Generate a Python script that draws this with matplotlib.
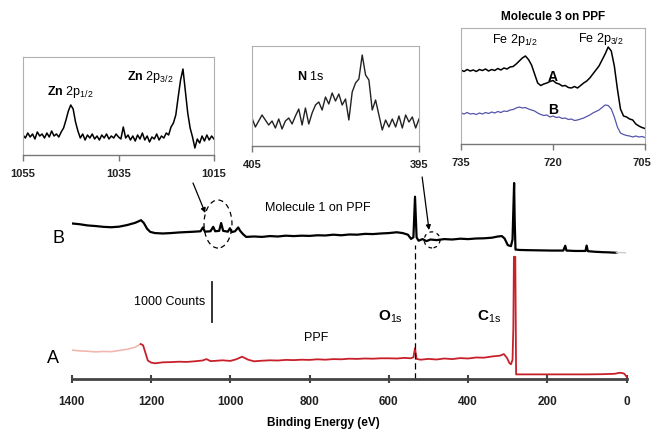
import matplotlib
matplotlib.use("Agg")
import matplotlib.pyplot as plt
from matplotlib.patches import Ellipse
from matplotlib.transforms import ScaledTranslation

plt.rcParams['font.family'] = 'Liberation Sans'
plt.rcParams['mathtext.fontset'] = 'custom'
plt.rcParams['mathtext.rm'] = 'Liberation Sans'
plt.rcParams['mathtext.bf'] = 'Liberation Sans:bold'
plt.rcParams['mathtext.default'] = 'regular'

# survey spectrum A (bare PPF), intensity in arbitrary offset units
ea = [1400, 1380, 1360, 1340, 1320, 1300, 1280, 1260, 1240, 1226,
      1220, 1214, 1208, 1200, 1190, 1170, 1150, 1130, 1110, 1090,
      1070, 1060, 1050, 1040, 1020, 1000, 985, 970, 955, 940,
      920, 900, 880, 860, 840, 820, 800, 780, 760, 740,
      720, 700, 680, 660, 640, 620, 600, 580, 560, 545,
      538, 534, 530, 520, 500, 480, 460, 440, 420, 400,
      380, 360, 340, 320, 310, 302, 296, 292, 288, 286,
      284.5, 281, 279, 260, 200, 150, 100, 60, 30, 18,
      12, 6, 0]
ia = [14.4, 14.0, 13.8, 13.5, 13.7, 13.6, 14.2, 14.8, 15.8, 17.4,
      16.8, 13, 9.2, 8.2, 7.8, 8.3, 8.4, 8.6, 8.5, 8.8,
      9.2, 9.9, 8.9, 9.0, 9.3, 9.0, 9.8, 11.1, 9.6, 8.8,
      9.1, 9.3, 9.2, 9.5, 9.4, 9.6, 9.5, 9.8, 9.6, 9.9,
      9.8, 10.1, 10.0, 10.2, 10.1, 10.3, 10.3, 10.2, 10.5, 10.3,
      10.8, 15.4, 10.0, 9.6, 10.0, 9.7, 10.2, 9.9, 10.4, 10.2,
      10.7, 10.6, 11.2, 11.6, 12.4, 10.5, 8, 7.3, 9.5, 25,
      60.8, 60.8, 2.3, 2.3, 2.3, 2.3, 2.3, 2.4, 2.6, 3.1,
      3.0, 2.6, 1.1]
faded_a = 10  # first points of A drawn pale

# survey spectrum B (molecule 1 on PPF)
eb = [1400, 1380, 1360, 1340, 1320, 1300, 1280, 1260, 1240, 1225,
      1218, 1210, 1202, 1190, 1170, 1150, 1130, 1110, 1090, 1075,
      1069, 1064, 1050, 1043, 1038, 1028, 1023, 1018, 1006, 1001,
      996, 988, 980, 975, 968, 960, 940, 920, 900, 880,
      860, 840, 820, 800, 780, 760, 740, 720, 700, 680,
      660, 640, 620, 600, 580, 565, 552, 544, 538, 534,
      530, 525, 515, 505, 495, 480, 460, 440, 420, 400,
      380, 360, 340, 325, 315, 308, 300, 292, 288, 286,
      284, 282.5, 280.5, 270, 250, 220, 190, 160, 155, 152,
      130, 104, 101, 98, 80, 60, 45, 26]
ib = [77.4, 77.0, 76.4, 76.1, 75.7, 75.5, 75.8, 76.6, 77.7, 79.0,
      77.6, 74.8, 73.2, 72.6, 72.4, 72.6, 72.9, 73.1, 73.3, 73.5,
      75.4, 73.3, 73.5, 75.7, 73.5, 73.7, 77.6, 73.7, 73.3, 75.0,
      73.1, 73.5, 75.4, 73.7, 72.1, 70.7, 70.9, 70.7, 71.1, 70.9,
      71.3, 71.1, 71.3, 71.2, 71.5, 71.4, 71.8, 71.5, 71.9, 71.8,
      72.2, 72.1, 72.4, 72.6, 73.0, 72.6, 71.8, 69.7, 70.5, 90.7,
      70.5, 68.8, 69.6, 68.6, 69.4, 69.1, 69.6, 69.4, 69.8, 69.6,
      69.9, 70.0, 70.3, 70.9, 71.1, 69.9, 66.6, 66.1, 69.4, 83.6,
      97.5, 78.1, 64.4, 64.2, 64.1, 64.0, 63.9, 63.9, 66.3, 63.9,
      63.7, 63.7, 66.4, 63.6, 63.3, 63.1, 63.0, 62.8]
eb_tail = [26, 15, 3]
ib_tail = [62.8, 62.9, 62.8]

# Zn 2p inset
ezn = [1055, 1054.5, 1054, 1053.5, 1053, 1052.5, 1052, 1051.5, 1051, 1050.5,
       1050, 1049.5, 1049, 1048.5, 1048, 1047.5, 1047, 1046.5, 1046, 1045.5,
       1045, 1044.5, 1044, 1043.5, 1043, 1042.5, 1042, 1041.5, 1041, 1040.5,
       1040, 1039.5, 1039, 1038.5, 1038, 1037.5, 1037, 1036.5, 1036, 1035.5,
       1035, 1034.5, 1034, 1033.5, 1033, 1032.5, 1032, 1031.5, 1031, 1030.5,
       1030, 1029.5, 1029, 1028.5, 1028, 1027.5, 1027, 1026.5, 1026, 1025.5,
       1025, 1024.5, 1024, 1023.5, 1023, 1022.5, 1022, 1021.5, 1021, 1020.5,
       1020, 1019.5, 1019, 1018.5, 1018, 1017.5, 1017, 1016.5, 1016, 1015.5,
       1015]
izn = [20, 17, 22, 18, 21, 16, 23, 19, 21, 17,
       22, 18, 24, 19, 21, 18, 23, 27, 35, 44,
       50, 46, 33, 24, 17, 21, 15, 20, 17, 21,
       16, 19, 15, 20, 17, 21, 16, 19, 17, 21,
       18, 16, 28, 17, 20, 15, 19, 14, 20, 16,
       22, 15, 19, 13, 18, 16, 21, 15, 19, 17,
       22, 20, 28, 32, 40, 58, 75, 86, 64, 42,
       27, 18, 7, 16, 12, 19, 14, 20, 15, 19,
       16]

# N 1s inset
en = [405.0, 404.8, 404.6, 404.4, 404.2, 404.0, 403.8, 403.6, 403.4, 403.2,
      403.0, 402.8, 402.6, 402.4, 402.2, 402.0, 401.8, 401.6, 401.4, 401.2,
      401.0, 400.8, 400.6, 400.4, 400.2, 400.0, 399.8, 399.6, 399.4, 399.2,
      399.0, 398.8, 398.6, 398.4, 398.2, 398.0, 397.8, 397.6, 397.4, 397.2,
      397.0, 396.8, 396.6, 396.4, 396.2, 396.0, 395.8, 395.6, 395.4, 395.2,
      395.0]
inn = [28, 19, 25, 31, 26, 21, 25, 18, 27, 17,
       25, 28, 22, 30, 37, 21, 38, 22, 33, 41,
       44, 36, 49, 42, 53, 45, 52, 41, 47, 26,
       54, 63, 67, 91, 71, 66, 36, 46, 31, 16,
       26, 19, 27, 19, 30, 18, 31, 24, 29, 18,
       27]

# Fe 2p inset (molecule 3), curves A and B
efe = [735, 734.5, 734, 733.5, 733, 732.5, 732, 731.5, 731, 730.5,
       730, 729.5, 729, 728.5, 728, 727.5, 727, 726.5, 726, 725.5,
       725, 724.5, 724, 723.5, 723, 722.5, 722, 721.5, 721, 720.5,
       720, 719.5, 719, 718.5, 718, 717.5, 717, 716.5, 716, 715.5,
       715, 714.5, 714, 713.5, 713, 712.5, 712, 711.5, 711, 710.5,
       710, 709.5, 709, 708.5, 708, 707.5, 707, 706.5, 706, 705.5,
       705]
ife_a = [74, 72.5, 74.5, 73, 74, 72.5, 74.5, 73.5, 75, 73,
         74.5, 73.5, 75.5, 74, 76, 75, 77, 77.5, 80, 83,
         86, 88, 84.5, 79, 70, 61, 58.5, 60, 61, 62.5,
         63.5, 61, 60, 58, 58.5, 56.5, 56, 57.5, 56, 58.5,
         61, 63, 66, 70, 74, 78, 84, 90, 97, 93,
         78, 55, 35, 28, 27, 25, 24, 20, 18, 16.5,
         15.5]
ife_b = [31, 30, 31.5, 30, 30.5, 29.5, 31, 30, 31.5, 30.5,
         32, 31, 32.5, 31.5, 33, 32.5, 34, 34.5, 36, 37,
         36, 36.5, 35, 34, 33, 31, 29.5, 28.5, 29, 27,
         28, 26.5, 27, 25.5, 26, 24.5, 25, 23.5, 24, 25,
         26, 27.5, 29, 31, 32.5, 34, 36.5, 39, 38.5, 35,
         27, 17, 11, 9.5, 8.5, 8, 7, 8, 7, 7.5,
         6.5]

W, H = 652, 429
fig = plt.figure(figsize=(W / 100, H / 100), dpi=100)


def px_axes(x0, y0, x1, y1):
    return fig.add_axes([x0 / W, 1 - y1 / H, (x1 - x0) / W, (y1 - y0) / H])


# ---- main survey axes
ax = px_axes(71.7, 178, 626.7, 379)
ax.plot(ea[:faded_a], ia[:faded_a], color='#f2b8b0', lw=1.2)
ax.plot(ea[faded_a - 1:], ia[faded_a - 1:], color='#c8202a', lw=1.3)
ax.plot(eb, ib, color='black', lw=1.6)
ax.plot(eb_tail, ib_tail, color='#cccccc', lw=1)
ax.set_xlim(1400, 0)
ax.set_ylim(0, 100)
for s in ['left', 'top', 'right']:
    ax.spines[s].set_visible(False)
ax.spines['bottom'].set_color('#444444')
ax.spines['bottom'].set_linewidth(2)
ax.set_yticks([])
ax.set_xticks([1400, 1200, 1000, 800, 600, 400, 200, 0])
ax.tick_params(axis='x', direction='inout', length=6, width=1.5,
               color='#444444', labelsize=8.5, pad=9, labelcolor='#222222')
for t in ax.get_xticklabels():
    t.set_fontweight('bold')

ax.plot([534, 534], [0, 66.7], color='black', lw=0.9, ls=(0, (5, 3)))
ax.plot([1046.8, 1046.8], [28.5, 48.4], color='#222222', lw=1.3)
ax.text(1063.5, 38.4, '1000 Counts', ha='right', va='center', fontsize=9)
ax.text(912, 85.1, 'Molecule 1 on PPF', ha='left', va='center', fontsize=9)
ax.text(783.7, 20.2, 'PPF', ha='center', va='center', fontsize=9)
ax.text(597, 31, r'$\mathbf{O}_{1s}$', ha='center', va='center', fontsize=11)
ax.text(347, 31, r'$\mathbf{C}_{1s}$', ha='center', va='center', fontsize=11)
ax.text(1434, 70.1, 'B', ha='center', va='center', fontsize=13, clip_on=False)
ax.text(1446, 10.3, 'A', ha='center', va='center', fontsize=13, clip_on=False)

ax.add_patch(Ellipse((1031, 77.1), 70.6, 23.9, fill=False, ec='black',
                     lw=0.9, ls=(0, (4, 3))))
ax.add_patch(Ellipse((491, 69.2), 40, 8, fill=False, ec='black',
                     lw=0.9, ls=(0, (3, 3))))
ax.annotate('', xy=(1063, 82.6), xytext=(1094, 97.5), annotation_clip=False,
            arrowprops=dict(arrowstyle='-|>', color='black', lw=0.9,
                            mutation_scale=7, shrinkA=0, shrinkB=0))
ax.annotate('', xy=(498.6, 74.1), xytext=(516, 100.5), annotation_clip=False,
            arrowprops=dict(arrowstyle='-|>', color='black', lw=0.9,
                            mutation_scale=7, shrinkA=0, shrinkB=0))

fig.text(323 / W, 1 - 423 / H, 'Binding Energy (eV)', ha='center', va='center',
         fontsize=8.5, fontweight='bold')


def style_inset(a, ticks):
    for s in ['left', 'top', 'right']:
        a.spines[s].set_color('#b0b0b0')
        a.spines[s].set_linewidth(0.8)
    a.spines['bottom'].set_color('#777777')
    a.spines['bottom'].set_linewidth(1)
    a.set_yticks([])
    a.set_xticks(ticks)
    a.tick_params(axis='x', direction='out', length=4, width=1, color='#777777',
                  labelsize=8, pad=6, labelcolor='#222222')
    for t in a.get_xticklabels():
        t.set_fontweight('bold')


# ---- Zn inset
az = px_axes(23, 57, 214, 155)
az.plot(ezn, izn, color='black', lw=1.1)
az.set_xlim(1055, 1015)
az.set_ylim(0, 98)
style_inset(az, [1055, 1035, 1015])
az.text(1050, 63, r'$\mathbf{Zn}$ 2p$_{1/2}$', ha='left', va='center', fontsize=9)
az.text(1033.2, 78, r'$\mathbf{Zn}$ 2p$_{3/2}$', ha='left', va='center', fontsize=9)

# ---- N inset
an = px_axes(252, 46, 419, 146)
an.plot(en, inn, color='#222222', lw=1)
an.set_xlim(405, 395)
an.set_ylim(0, 100)
style_inset(an, [405, 395])
an.text(402.3, 69, r'$\mathbf{N}$ 1s', ha='left', va='center', fontsize=9)

# ---- Fe inset
af = px_axes(461, 28, 645, 144)
af.plot(efe, ife_a, color='black', lw=1.1)
af.plot(efe, ife_b, color='#5555aa', lw=0.9)
af.set_xlim(735, 705)
af.set_ylim(0, 116)
style_inset(af, [735, 720, 705])
last = af.get_xticklabels()[-1]
last.set_horizontalalignment('right')
last.set_transform(last.get_transform() + ScaledTranslation(0.06, 0, fig.dpi_scale_trans))
af.set_title('Molecule 3 on PPF', fontsize=8.5, fontweight='bold', pad=6)
af.text(730, 104, r'Fe 2p$_{1/2}$', ha='left', va='center', fontsize=9)
af.text(716, 105, r'Fe 2p$_{3/2}$', ha='left', va='center', fontsize=9)
af.text(720, 67, 'A', ha='center', va='center', fontsize=10, fontweight='bold')
af.text(720, 34, 'B', ha='center', va='center', fontsize=10, fontweight='bold')

fig.savefig('out.png', dpi=100)
